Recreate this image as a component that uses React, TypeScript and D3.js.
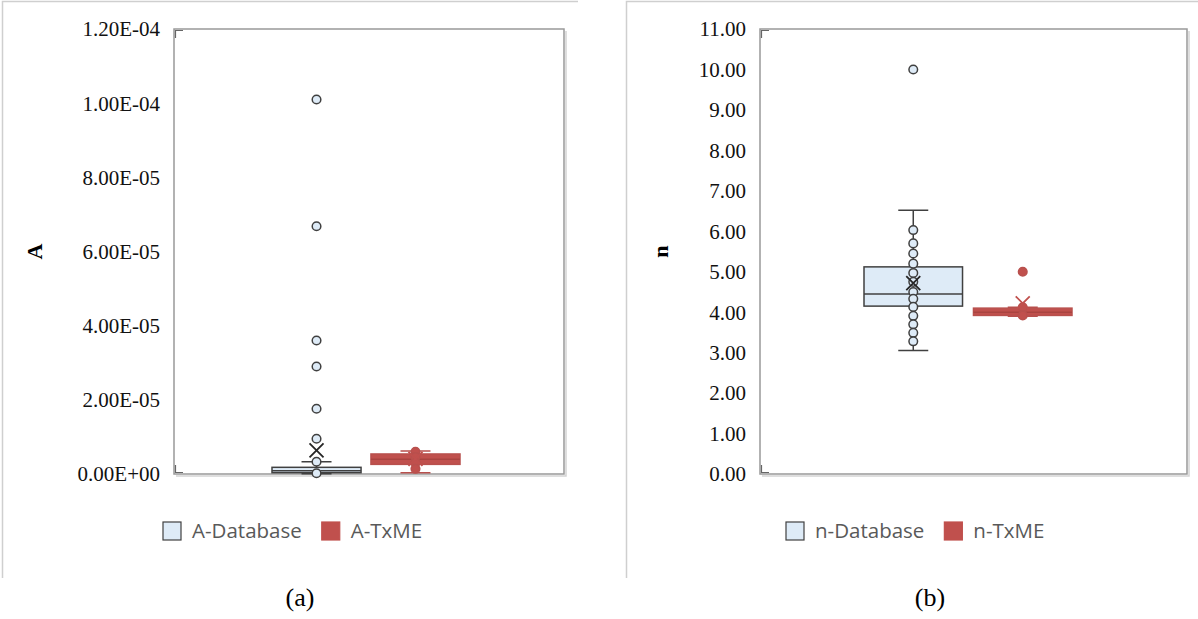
import React, { useEffect, useRef } from "react";
import * as d3 from "d3";

// panel (a): parameter A
const aSeries = ["A-Database", "A-TxME"];
const aLow = [0.1e-6, 0.35e-6];
const aQ1 = [0.35e-6, 2.6e-6];
const aMedian = [0.9e-6, 4.0e-6];
const aQ3 = [1.8e-6, 5.4e-6];
const aHigh = [3.3e-6, 6.2e-6];
const aMean = [6.4e-6, 4.1e-6];
const aPoints = [
  [0.2e-6, 3.3e-6, 9.5e-6, 1.76e-5, 2.9e-5, 3.6e-5, 6.68e-5, 1.01e-4],
  [6.0e-6, 4.6e-6, 3.0e-6, 1.4e-6],
];
const aTicks = [0, 2e-5, 4e-5, 6e-5, 8e-5, 1e-4, 1.2e-4];

// panel (b): parameter n
const nSeries = ["n-Database", "n-TxME"];
const nLow = [3.05, 3.9];
const nQ1 = [4.15, 3.92];
const nMedian = [4.45, 4.0];
const nQ3 = [5.12, 4.1];
const nHigh = [6.52, 4.12];
const nMean = [4.72, 4.22];
const nPoints = [
  [6.03, 5.7, 5.45, 5.2, 4.97, 4.75, 4.5, 4.33, 4.13, 3.91, 3.7, 3.49, 3.28, 10.0],
  [4.12, 3.92, 5.0],
];
const nTicks = [0, 1, 2, 3, 4, 5, 6, 7, 8, 9, 10, 11];

const fills = ["#DEEBF7", "#C0504D"];
const strokes = ["#404040", "#B8504D"];

function sci(v) {
  const [m, e] = v.toExponential(2).split("e");
  const n = parseInt(e, 10);
  return m + "E" + (n < 0 ? "-" : "+") + String(Math.abs(n)).padStart(2, "0");
}

function drawPanel(svg, cfg) {
  const { plot } = cfg;
  const g = svg.append("g");

  // outer frame (top + left edge only, like a cropped figure)
  g.append("path")
    .attr("d", `M${cfg.frame[0]},578 V1.5 H${cfg.frame[1]}`)
    .attr("fill", "none")
    .attr("stroke", "#cfcfcf")
    .attr("stroke-width", 1.5);

  const y = d3.scaleLinear().domain(cfg.yDomain).range([plot.b, plot.t]);
  const x = d3.scaleBand().domain(cfg.series).range(cfg.boxRange).paddingInner(0.1);

  // plot area box with a slight shadow
  g.append("path")
    .attr("d", `M${plot.l + 2},${plot.b + 2} H${plot.r + 2} V${plot.t + 2}`)
    .attr("fill", "none")
    .attr("stroke", "#d4d4d4")
    .attr("stroke-width", 1.5);
  g.append("rect")
    .attr("x", plot.l)
    .attr("y", plot.t)
    .attr("width", plot.r - plot.l)
    .attr("height", plot.b - plot.t)
    .attr("fill", "none")
    .attr("stroke", "#999")
    .attr("stroke-width", 1.5);
  // dark corner marks on the left side of the box
  g.append("path")
    .attr("d",
      `M${plot.l + 1.5},${plot.t + 9} V${plot.t + 1.5} H${plot.l + 9}` +
      ` M${plot.l + 1.5},${plot.b - 9} V${plot.b - 1.5} H${plot.l + 9}`)
    .attr("fill", "none")
    .attr("stroke", "#666")
    .attr("stroke-width", 1.2);

  // tick labels
  g.selectAll(".tick")
    .data(cfg.ticks)
    .enter()
    .append("text")
    .attr("x", plot.l - 14)
    .attr("y", (d) => y(d))
    .attr("dy", "0.35em")
    .attr("text-anchor", "end")
    .attr("font-family", "'Liberation Serif', 'Times New Roman', serif")
    .attr("font-size", 21)
    .attr("fill", "#111")
    .text(cfg.fmt);

  // axis title
  g.append("text")
    .attr("transform", `translate(${cfg.titleX},${(plot.t + plot.b) / 2}) rotate(-90)`)
    .attr("text-anchor", "middle")
    .attr("dy", "0.35em")
    .attr("font-family", "'Liberation Serif', 'Times New Roman', serif")
    .attr("font-weight", "bold")
    .attr("font-size", 22)
    .text(cfg.title);

  cfg.series.forEach((s, i) => {
    const x0 = x(s);
    const bw = x.bandwidth();
    const cx = x0 + bw / 2;
    const cap = 15;
    const st = strokes[i];
    const bg = g.append("g");

    // whiskers
    bg.append("path")
      .attr("d",
        `M${cx},${y(cfg.q3[i])} V${y(cfg.high[i])} M${cx - cap},${y(cfg.high[i])} H${cx + cap}` +
        ` M${cx},${y(cfg.q1[i])} V${y(cfg.low[i])} M${cx - cap},${y(cfg.low[i])} H${cx + cap}`)
      .attr("stroke", st)
      .attr("stroke-width", 1.5)
      .attr("fill", "none");

    // box
    bg.append("rect")
      .attr("x", x0)
      .attr("y", y(cfg.q3[i]))
      .attr("width", bw)
      .attr("height", Math.max(1, y(cfg.q1[i]) - y(cfg.q3[i])))
      .attr("fill", fills[i])
      .attr("stroke", st)
      .attr("stroke-width", 1.5);

    // median
    bg.append("line")
      .attr("x1", x0)
      .attr("x2", x0 + bw)
      .attr("y1", y(cfg.median[i]))
      .attr("y2", y(cfg.median[i]))
      .attr("stroke", i === 0 ? st : "#a94441")
      .attr("stroke-width", 1.5);

    // points
    bg.selectAll("circle")
      .data(cfg.points[i])
      .enter()
      .append("circle")
      .attr("cx", cx)
      .attr("cy", (d) => y(d))
      .attr("r", 4.3)
      .attr("fill", fills[i])
      .attr("stroke", st)
      .attr("stroke-width", 1.5);

    // mean marker
    const my = y(cfg.mean[i]);
    const h = 7;
    bg.append("path")
      .attr("d", `M${cx - h},${my - h} L${cx + h},${my + h} M${cx - h},${my + h} L${cx + h},${my - h}`)
      .attr("stroke", i === 0 ? "#262626" : "#C0504D")
      .attr("stroke-width", 1.8)
      .attr("fill", "none");
  });

  // legend
  let lx = cfg.legendX;
  const ly = 531;
  cfg.series.forEach((s, i) => {
    g.append("rect")
      .attr("x", lx)
      .attr("y", ly - 9)
      .attr("width", 18)
      .attr("height", 18)
      .attr("fill", fills[i])
      .attr("stroke", i === 0 ? "#404040" : "#C0504D")
      .attr("stroke-width", 1.2);
    const t = g.append("text")
      .attr("x", lx + 29)
      .attr("y", ly)
      .attr("dy", "0.35em")
      .attr("font-family", "'Open Sans', 'Noto Sans', sans-serif")
      .attr("font-size", 20.5)
      .attr("fill", "#595959")
      .text(s);
    const w = t.node().getComputedTextLength();
    lx = lx + 29 + w + 20;
  });

  // caption
  g.append("text")
    .attr("x", cfg.captionX)
    .attr("y", 606)
    .attr("text-anchor", "middle")
    .attr("font-family", "'Liberation Serif', 'Times New Roman', serif")
    .attr("font-size", 26)
    .attr("fill", "#000")
    .text(cfg.caption);
}

export default function App() {
  const ref = useRef(null);

  useEffect(() => {
    const svg = d3.select(ref.current);
    svg.selectAll("*").remove();

    drawPanel(svg, {
      series: aSeries, low: aLow, q1: aQ1, median: aMedian, q3: aQ3, high: aHigh,
      mean: aMean, points: aPoints, ticks: aTicks, fmt: sci,
      yDomain: [0, 1.2e-4],
      plot: { l: 174, r: 564, t: 29, b: 474 },
      boxRange: [272, 460],
      frame: [2.5, 578],
      title: "A", titleX: 34,
      legendX: 163,
      caption: "(a)", captionX: 300,
    });

    drawPanel(svg, {
      series: nSeries, low: nLow, q1: nQ1, median: nMedian, q3: nQ3, high: nHigh,
      mean: nMean, points: nPoints, ticks: nTicks, fmt: d3.format(".2f"),
      yDomain: [0, 11],
      plot: { l: 760, r: 1187, t: 29, b: 474 },
      boxRange: [864, 1072],
      frame: [626.5, 1198],
      title: "n", titleX: 660,
      legendX: 786,
      caption: "(b)", captionX: 930,
    });
  }, []);

  return (
    <svg
      ref={ref}
      width={1198}
      height={619}
      style={{ position: "absolute", left: 0, top: 0, background: "#fff" }}
    />
  );
}
